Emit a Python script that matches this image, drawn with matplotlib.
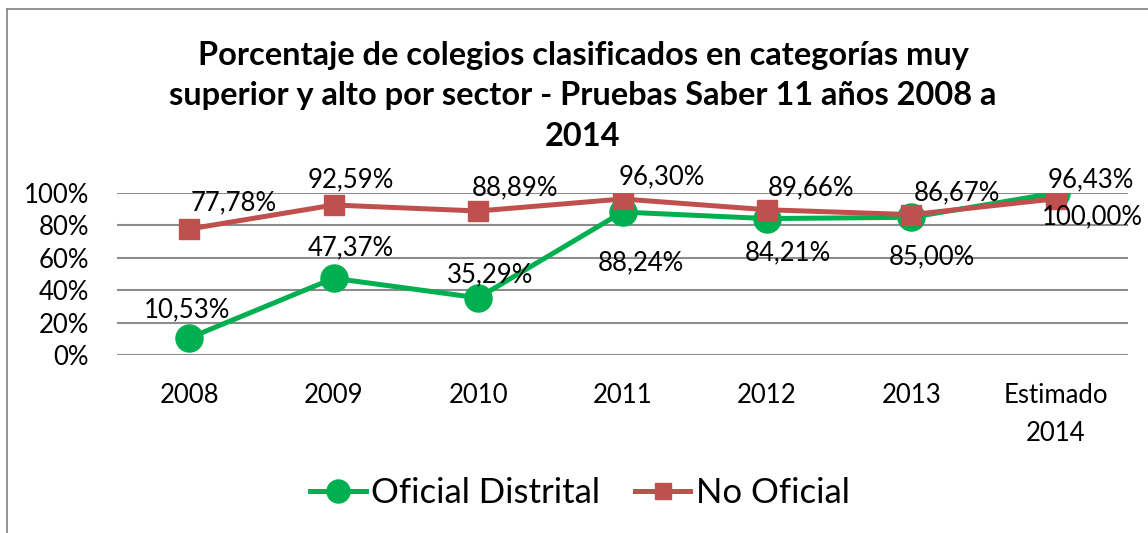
import matplotlib
matplotlib.use("Agg")
import matplotlib.pyplot as plt
from matplotlib.lines import Line2D

plt.rcParams['font.family'] = ['Lato', 'DejaVu Sans']

categories = ["2008", "2009", "2010", "2011", "2012", "2013", "Estimado\n2014"]
oficial_distrital = [10.53, 47.37, 35.29, 88.24, 84.21, 85.00, 100.00]
no_oficial = [77.78, 92.59, 88.89, 96.30, 89.66, 86.67, 96.43]
yticks = [0, 20, 40, 60, 80, 100]
title = ("Porcentaje de colegios clasificados en categorías muy\n"
         "superior y alto por sector - Pruebas Saber 11 años 2008 a\n2014")

# label offsets in pixels (style only)
off_green = [(-2, 28), (17, 30), (12, 23), (18, -51), (21, -34), (21, -40), (37, -24)]
off_red = [(44, 26), (17, 25), (37, 23), (39, 22), (44, 22), (46, 22), (35, 19)]

GREEN = "#00B050"
RED = "#C0504D"

W, H = 1148, 533
fig = plt.figure(figsize=(W / 100, H / 100), dpi=100)
ax = fig.add_axes([117 / W, 1 - 355 / H, (1128 - 117) / W, (355 - 193) / H])

x = list(range(len(categories)))
ax.plot(x, oficial_distrital, color=GREEN, lw=3.6, marker='o', ms=19.5,
        label="Oficial Distrital", zorder=3)
ax.plot(x, no_oficial, color=RED, lw=3.6, marker='s', ms=14,
        label="No Oficial", zorder=4)

def fmt(v):
    return f"{v:.2f}".replace(".", ",") + "%"

for xi, v, (dx, dy) in zip(x, oficial_distrital, off_green):
    ax.annotate(fmt(v), (xi, v), xytext=(dx * 0.72, dy * 0.72), textcoords='offset points',
                ha='center', va='center', fontsize=18.5, color='black', zorder=6,
                annotation_clip=False)
for xi, v, (dx, dy) in zip(x, no_oficial, off_red):
    ax.annotate(fmt(v), (xi, v), xytext=(dx * 0.72, dy * 0.72), textcoords='offset points',
                ha='center', va='center', fontsize=18.5, color='black', zorder=6,
                annotation_clip=False)

ax.set_xlim(-0.5, len(categories) - 0.5)
ax.set_ylim(0, 100)
ax.set_yticks(yticks)
ax.set_yticklabels([f"{t}%" for t in yticks], fontsize=18.5)
ax.set_xticks(x)
ax.set_xticklabels(categories, fontsize=18.5, linespacing=1.65, va='top')
ax.tick_params(axis='y', length=0, pad=20)
ax.tick_params(axis='x', length=0, pad=20)
ax.grid(axis='y', color='#8C8C8C', lw=1.5)
ax.set_axisbelow(True)
for s in ax.spines.values():
    s.set_visible(False)
ax.patch.set_alpha(0)

fig.text(583 / W, 1 - 96 / H, title, ha='center', va='center', fontsize=23.4,
         fontweight='bold', linespacing=1.5)

fig.legend(loc='center', bbox_to_anchor=(580 / W, 1 - 493 / H), ncol=2,
           frameon=False, fontsize=25, handlelength=1.6, handletextpad=0.15,
           columnspacing=1.0, markerscale=0.85)

fig.add_artist(Line2D([6.5 / W, 6.5 / W], [0, 1 - 8.5 / H], transform=fig.transFigure,
                      color='#8A8A8A', lw=1.3))
fig.add_artist(Line2D([6.5 / W, 1], [1 - 8.5 / H, 1 - 8.5 / H], transform=fig.transFigure,
                      color='#8A8A8A', lw=1.3))

fig.savefig("out.png", dpi=100)
